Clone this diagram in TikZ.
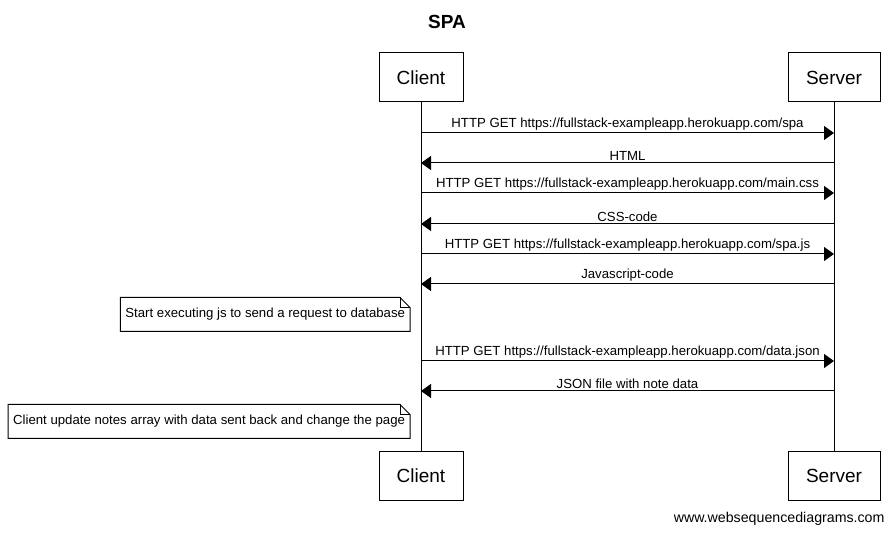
\documentclass[tikz,border=0pt]{standalone}
\usepackage{fontspec}
\setmainfont{Liberation Sans}
\usetikzlibrary{arrows.meta}

\begin{document}
\begin{tikzpicture}[x=1pt, y=-1pt, line width=1pt]
    \tikzstyle{actor} = [draw, minimum height=49, font=\fontsize{19}{22}\selectfont]
    \tikzstyle{msg} = [-{Triangle[length=10pt, width=14pt]}]
    \tikzstyle{lbl} = [midway, above, inner sep=2.2pt, font=\fontsize{13.2}{15}\selectfont]
    \tikzstyle{note} = [anchor=east, minimum height=33, inner xsep=4.5pt, font=\fontsize{13.2}{15}\selectfont]
    \useasboundingbox (0,0) rectangle (895,534);

    \node[font=\bfseries\fontsize{19}{22}\selectfont] (title) at (447,22) {SPA};

    \node[actor, minimum width=84] (clienttop) at (421,77.5) {Client};
    \node[actor, minimum width=92] (servertop) at (834,77.5) {Server};
    \node[actor, minimum width=84] (clientbot) at (421,476) {Client};
    \node[actor, minimum width=92] (serverbot) at (834,476) {Server};
    \draw (clienttop) -- (clientbot);
    \draw (servertop) -- (serverbot);

    \coordinate (c1) at (421,133);  \coordinate (s1) at (834,133);
    \coordinate (c2) at (421,163);  \coordinate (s2) at (834,163);
    \coordinate (c3) at (421,193);  \coordinate (s3) at (834,193);
    \coordinate (c4) at (421,224);  \coordinate (s4) at (834,224);
    \coordinate (c5) at (421,254);  \coordinate (s5) at (834,254);
    \coordinate (c6) at (421,284);  \coordinate (s6) at (834,284);
    \coordinate (c7) at (421,361);  \coordinate (s7) at (834,361);
    \coordinate (c8) at (421,391);  \coordinate (s8) at (834,391);

    \draw[msg] (c1) -- (s1) node[lbl] {HTTP GET https://fullstack-exampleapp.herokuapp.com/spa};
    \draw[msg] (s2) -- (c2) node[lbl] {HTML};
    \draw[msg] (c3) -- (s3) node[lbl] {HTTP GET https://fullstack-exampleapp.herokuapp.com/main.css};
    \draw[msg] (s4) -- (c4) node[lbl] {CSS-code};
    \draw[msg] (c5) -- (s5) node[lbl] {HTTP GET https://fullstack-exampleapp.herokuapp.com/spa.js};
    \draw[msg] (s6) -- (c6) node[lbl] {Javascript-code};
    \draw[msg] (c7) -- (s7) node[lbl] {HTTP GET https://fullstack-exampleapp.herokuapp.com/data.json};
    \draw[msg] (s8) -- (c8) node[lbl] {JSON file with note data};

    \node[note] (noteone) at (410,314.5) {Start executing js to send a request to database};
    \draw (noteone.south west) -- (noteone.north west) -- ([xshift=-10pt]noteone.north east)
      -- ([yshift=-10pt]noteone.north east) -- (noteone.south east) -- cycle;
    \draw ([xshift=-10pt]noteone.north east) |- ([yshift=-10pt]noteone.north east);

    \node[note] (notetwo) at (410,421.5) {Client update notes array with data sent back and change the page};
    \draw (notetwo.south west) -- (notetwo.north west) -- ([xshift=-10pt]notetwo.north east)
      -- ([yshift=-10pt]notetwo.north east) -- (notetwo.south east) -- cycle;
    \draw ([xshift=-10pt]notetwo.north east) |- ([yshift=-10pt]notetwo.north east);

    \node[anchor=east, inner sep=0pt, font=\fontsize{14.2}{16}\selectfont] (footer) at (885,519) {www.websequencediagrams.com};
\end{tikzpicture}
\end{document}
